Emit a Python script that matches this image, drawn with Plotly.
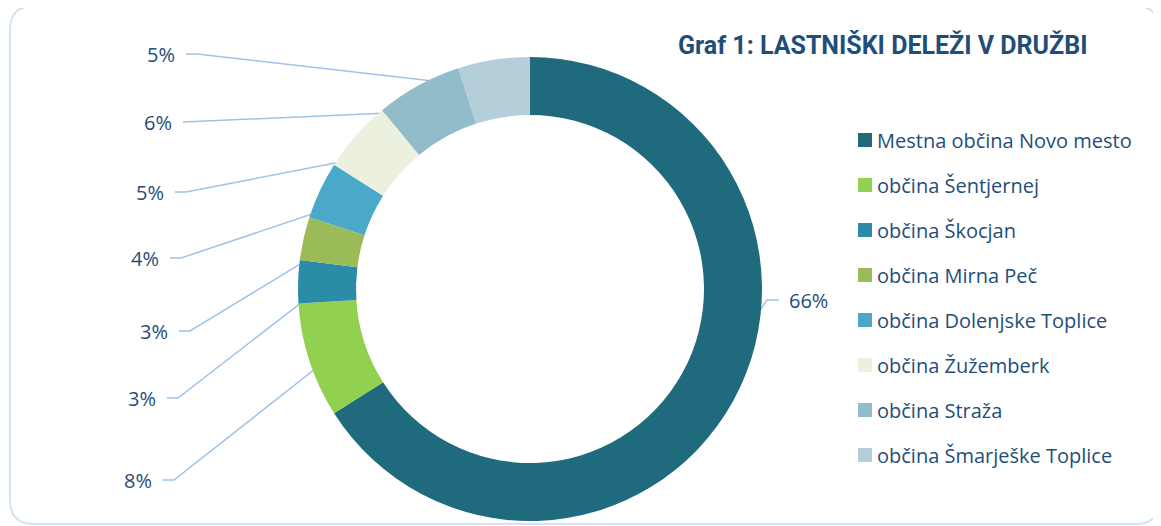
import math

import plotly.graph_objects as go

# data
municipalities = [
    "Mestna občina Novo mesto",
    "občina Šentjernej",
    "občina Škocjan",
    "občina Mirna Peč",
    "občina Dolenjske Toplice",
    "občina Žužemberk",
    "občina Straža",
    "občina Šmarješke Toplice",
]
shares = [66, 8, 3, 3, 4, 5, 6, 5]

colors = [
    "#1f6a7d",
    "#92d050",
    "#2a8ca6",
    "#9bbb59",
    "#4aa9c8",
    "#ebf1de",
    "#93bccb",
    "#b4cfd9",
]

TITLE = "Graf 1: LASTNIŠKI DELEŽI V DRUŽBI"

# layout (page pixels)
W, H = 1161, 526
OFF = 8  # page body margin, the figure starts 8px in
FW, FH = W - OFF, H - OFF
CX, CY = 530, 289
R_OUT, R_IN = 232, 174
R_LINE = 203
TEXT_BLUE = "#1f4e79"
LINE_BLUE = "#9fc2e8"

# where each percentage label sits (x = edge of text nearest the ring)
label_x = [787, 154, 158, 170, 161, 166, 174, 177]
label_y = [300, 480, 398, 331, 258, 192, 122, 54]

LEGEND_X = 858
LEGEND_Y0 = 140
LEGEND_STEP = 45

fig = go.Figure()

fig.add_trace(
    go.Pie(
        labels=municipalities,
        values=shares,
        hole=R_IN / R_OUT,
        sort=False,
        direction="clockwise",
        rotation=0,
        marker=dict(colors=colors, line=dict(width=0)),
        textinfo="none",
        hoverinfo="label+percent",
        showlegend=False,
        domain=dict(
            x=[(CX - R_OUT - OFF) / FW, (CX + R_OUT - OFF) / FW],
            y=[(H - CY - R_OUT) / FH, (H - CY + R_OUT) / FH],
        ),
    )
)

# leader lines + percentage labels
total = sum(shares)
cum = 0
annotations = []
for i, v in enumerate(shares):
    mid = (cum + v / 2) / total * 2 * math.pi
    cum += v
    px = CX + R_LINE * math.sin(mid)
    py = CY - R_LINE * math.cos(mid)
    ly = label_y[i]
    if label_x[i] > CX:
        end = label_x[i] - 8
        elbow = end - 12
        anchor = "left"
    else:
        end = label_x[i] + 9
        elbow = end + 11
        anchor = "right"
    fig.add_trace(
        go.Scatter(
            x=[px, elbow, end],
            y=[py, ly, ly],
            mode="lines",
            line=dict(color=LINE_BLUE, width=1.5),
            hoverinfo="skip",
            showlegend=False,
        )
    )
    annotations.append(
        dict(
            x=label_x[i], y=ly, xref="x", yref="y",
            text=f"{v}%", showarrow=False,
            xanchor=anchor, yanchor="middle",
            font=dict(size=20, color=TEXT_BLUE),
        )
    )

# legend
shapes = []
for i, name in enumerate(municipalities):
    yc = LEGEND_Y0 + i * LEGEND_STEP
    shapes.append(
        dict(
            type="rect", xref="x", yref="y",
            x0=LEGEND_X, x1=LEGEND_X + 14, y0=yc - 7, y1=yc + 7,
            fillcolor=colors[i], line=dict(width=0),
        )
    )
    annotations.append(
        dict(
            x=LEGEND_X + 17, y=yc, xref="x", yref="y",
            text=name, showarrow=False,
            xanchor="left", yanchor="middle",
            font=dict(size=20, color=TEXT_BLUE),
        )
    )

# title
annotations.append(
    dict(
        x=676, y=45, xref="x", yref="y",
        text=f"<b>{TITLE}</b>", showarrow=False,
        xanchor="left", yanchor="middle",
        font=dict(family="Roboto", size=25, color=TEXT_BLUE),
    )
)

# rounded frame
shapes.insert(
    0,
    dict(
        type="path", xref="x", yref="y",
        path="M 34,6 L 1136,6 Q 1159,6 1159,30 L 1159,500 Q 1159,524 1136,524 "
             "L 34,524 Q 10,524 10,500 L 10,30 Q 10,6 34,6 Z",
        line=dict(color="#d3e2f4", width=2),
        fillcolor="rgba(0,0,0,0)",
        layer="below",
    ),
)

fig.update_layout(
    width=FW,
    height=FH,
    margin=dict(l=0, r=0, t=0, b=0),
    paper_bgcolor="white",
    plot_bgcolor="rgba(0,0,0,0)",
    font=dict(family="Open Sans", size=18, color=TEXT_BLUE),
    xaxis=dict(range=[OFF, W], visible=False, fixedrange=True),
    yaxis=dict(range=[H, OFF], visible=False, fixedrange=True),
    shapes=shapes,
    annotations=annotations,
    showlegend=False,
)

fig.write_html("out.html")
